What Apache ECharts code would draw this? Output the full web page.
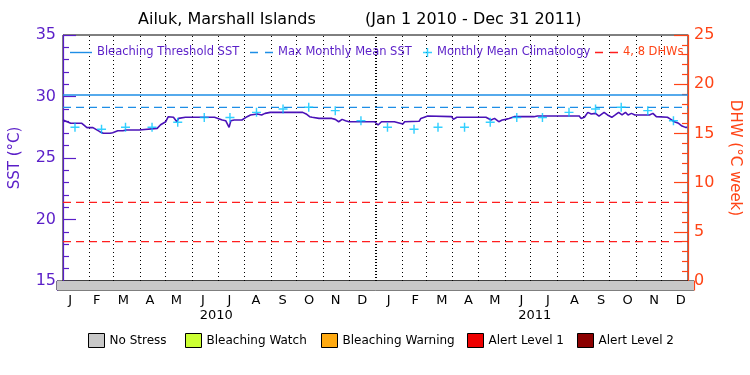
<!DOCTYPE html>
<html>
<head>
<meta charset="utf-8">
<title>Ailuk, Marshall Islands</title>
<script src="https://cdn.jsdelivr.net/npm/echarts@6/dist/echarts.min.js"></script>
<style>
html, body { margin: 0; padding: 0; background: #fff; }
#chart { width: 750px; height: 375px; }
</style>
</head>
<body>
<div id="chart"></div>
<script>
// SST trace (°C), a point wherever the trace changes
var sstDates = [
  "2010-01-01", "2010-01-03", "2010-01-10", "2010-01-23", "2010-01-25", "2010-01-29",
  "2010-02-05", "2010-02-07", "2010-02-13", "2010-02-17", "2010-02-25", "2010-02-28",
  "2010-03-06", "2010-03-08", "2010-03-12", "2010-03-16", "2010-03-31",
  "2010-04-02", "2010-04-21", "2010-04-25",
  "2010-05-01", "2010-05-04", "2010-05-10", "2010-05-14", "2010-05-16", "2010-05-24",
  "2010-06-27",
  "2010-07-01", "2010-07-06", "2010-07-10", "2010-07-14", "2010-07-16", "2010-07-20", "2010-07-29", "2010-07-31",
  "2010-08-04", "2010-08-08", "2010-08-16", "2010-08-21", "2010-08-25", "2010-08-31",
  "2010-10-08", "2010-10-12", "2010-10-16", "2010-10-19", "2010-10-27",
  "2010-11-11", "2010-11-15", "2010-11-19", "2010-11-23", "2010-11-27",
  "2010-12-01", "2010-12-31",
  "2011-01-04", "2011-01-08", "2011-01-23", "2011-01-25",
  "2011-02-02", "2011-02-04", "2011-02-06", "2011-02-21", "2011-02-23", "2011-02-25",
  "2011-03-03", "2011-03-31",
  "2011-04-02", "2011-04-06",
  "2011-05-10", "2011-05-12", "2011-05-16", "2011-05-20", "2011-05-25", "2011-05-29",
  "2011-06-02", "2011-06-06", "2011-06-12",
  "2011-07-05", "2011-07-09",
  "2011-08-27", "2011-08-29",
  "2011-09-02", "2011-09-06", "2011-09-10", "2011-09-15", "2011-09-19", "2011-09-25", "2011-09-29",
  "2011-10-04", "2011-10-08", "2011-10-12", "2011-10-16", "2011-10-20", "2011-10-23", "2011-10-27", "2011-10-31",
  "2011-11-17", "2011-11-21", "2011-11-25", "2011-11-27",
  "2011-12-08", "2011-12-12", "2011-12-16", "2011-12-21", "2011-12-25", "2011-12-29", "2011-12-31"
];
var sstValues = [
  28.09, 28.03, 27.82, 27.82, 27.68, 27.47,
  27.47, 27.36, 27.14, 27.01, 27.01, 27.06,
  27.22, 27.09, 27.22, 27.28, 27.28,
  27.41, 27.41, 27.70,
  27.95, 28.36, 28.31, 27.95, 28.22, 28.31,
  28.31,
  28.22, 28.09, 28.03, 27.49, 28.03, 28.09, 28.09, 28.22,
  28.36, 28.50, 28.58, 28.50, 28.63, 28.71,
  28.71, 28.58, 28.36, 28.31, 28.22,
  28.22, 28.14, 27.95, 28.14, 28.03,
  27.95, 27.95,
  27.68, 27.95, 27.95, 27.82,
  27.77, 27.95, 27.99, 27.99, 28.22, 28.36,
  28.41, 28.36,
  28.14, 28.31,
  28.31, 28.22, 28.09, 28.22, 27.95, 28.09,
  28.14, 28.22, 28.36,
  28.36, 28.41,
  28.41, 28.22,
  28.31, 28.71, 28.58, 28.63, 28.41, 28.71, 28.50,
  28.31, 28.50, 28.71, 28.50, 28.71, 28.50, 28.63, 28.50,
  28.50, 28.63, 28.36, 28.31,
  28.31, 28.14, 27.95, 27.82, 27.60, 27.49, 27.49
];
// monthly mean climatology, Jan..Dec
var climValues = [27.50, 27.33, 27.50, 27.50, 27.90, 28.30, 28.30, 28.71, 28.98, 29.12, 28.85, 28.03];
var mmmSst = 29.12;
var thresholdSst = 30.12;
var dhwLevels = [4, 8];
var years = ["2010", "2011"];
var monthLetters = ["J", "F", "M", "A", "M", "J", "J", "A", "S", "O", "N", "D"];
var stressNames = ["No Stress", "Bleaching Watch", "Bleaching Warning", "Alert Level 1", "Alert Level 2"];
// [start, end, stress level index]
var stressPeriods = [["2010-01-01", "2012-01-01", 0]];

var startDate = "2010-01-01";
var endDate = "2012-01-01";

var FONT = "DejaVu Sans";
var PURPLE = "#5a1ec8";
var ORANGE = "#ff4416";
var stressColors = ["#c8c8c8", "#ccff33", "#ffaa11", "#ee0000", "#8b0000"];
var stressLegendLeft = [88, 185, 321, 467, 577];
var crossIcon = "path://M4.2,0H5.8V4.2H10V5.8H5.8V10H4.2V5.8H0V4.2H4.2Z";
var solidIcon = "path://M0,0H22V1.4H0Z";
var dashIcon = "path://M0,0H8V1.4H0ZM15,0H23V1.4H15Z";

function pad(n) { return n < 10 ? "0" + n : "" + n; }

var monthLabels = [];
var monthLines = [];
var climData = [];
years.forEach(function (y) {
  monthLetters.forEach(function (m, i) {
    monthLabels.push(m);
    climData.push([y + "-" + pad(i + 1) + "-15", climValues[i]]);
    var d = y + "-" + pad(i + 1) + "-01";
    if (d === startDate) return;
    monthLines.push(d === "2011-01-01"
      ? { xAxis: d, lineStyle: { width: 2, type: [1, 2] } }
      : { xAxis: d });
  });
});

var sstData = sstDates.map(function (d, i) { return [d, sstValues[i]]; });

var series = [
  {
    name: "Bleaching Threshold SST",
    type: "line",
    xAxisIndex: 0, yAxisIndex: 0,
    data: [[startDate, thresholdSst], [endDate, thresholdSst]],
    symbol: "none",
    lineStyle: { color: "#1e8ee6", width: 1.3 },
    itemStyle: { color: "#1e8ee6" }
  },
  {
    name: "Max Monthly Mean SST",
    type: "line",
    xAxisIndex: 0, yAxisIndex: 0,
    data: [[startDate, mmmSst], [endDate, mmmSst]],
    symbol: "none",
    lineStyle: { color: "#1e8ee6", width: 1.3, type: [8, 5] },
    itemStyle: { color: "#1e8ee6" }
  }
];
dhwLevels.forEach(function (v) {
  series.push({
    name: "4, 8 DHWs",
    type: "line",
    xAxisIndex: 0, yAxisIndex: 1,
    data: [[startDate, v], [endDate, v]],
    symbol: "none",
    lineStyle: { color: "#ff1e1e", width: 1.3, type: [8, 5] },
    itemStyle: { color: "#ff1e1e" }
  });
});
series.push({
  name: "SST",
  type: "line",
  xAxisIndex: 0, yAxisIndex: 0,
  data: sstData,
  symbol: "none",
  lineStyle: { color: "#4a12b8", width: 1.6 },
  z: 4,
  markLine: {
    silent: true,
    symbol: ["none", "none"],
    label: { show: false },
    lineStyle: { color: "#000", width: 1, type: [1, 3] },
    data: monthLines,
    z: 1
  }
});
series.push({
  name: "Monthly Mean Climatology",
  type: "scatter",
  xAxisIndex: 0, yAxisIndex: 0,
  data: climData,
  symbol: crossIcon,
  symbolSize: 9,
  itemStyle: { color: "#00c4ff" },
  z: 5
});
stressNames.forEach(function (name, k) {
  series.push({
    name: name,
    type: "custom",
    xAxisIndex: 1, yAxisIndex: 2,
    dimensions: [{ name: "start", type: "time" }, { name: "end", type: "time" }, { name: "level" }],
    encode: { x: [0, 1] },
    itemStyle: { color: stressColors[k] },
    data: stressPeriods.filter(function (p) { return p[2] === k; }),
    renderItem: function (params, api) {
      var a = api.coord([api.value(0), 1]);
      var b = api.coord([api.value(1), 0]);
      return {
        type: "rect",
        shape: { x: a[0], y: a[1], width: b[0] - a[0], height: b[1] - a[1] },
        style: { fill: stressColors[k] }
      };
    }
  });
});

function topLegend(name, left, width, height, color, icon) {
  return {
    left: left, top: 46.5, padding: 0,
    itemWidth: width, itemHeight: height,
    selectedMode: false,
    data: [{ name: name, icon: icon }],
    textStyle: { color: color, fontFamily: FONT, fontSize: 11.5 }
  };
}

var legends = [
  topLegend("Bleaching Threshold SST", 70, 22, 1.4, PURPLE, solidIcon),
  topLegend("Max Monthly Mean SST", 250, 23, 1.4, PURPLE, dashIcon),
  topLegend("Monthly Mean Climatology", 423, 9, 9, PURPLE, crossIcon),
  topLegend("4, 8 DHWs", 595, 23, 1.4, ORANGE, dashIcon)
];
stressNames.forEach(function (name, k) {
  legends.push({
    left: stressLegendLeft[k], top: 333, padding: 0,
    itemWidth: 16, itemHeight: 14,
    selectedMode: false,
    data: [{ name: name, icon: "rect" }],
    itemStyle: { borderColor: "#000", borderWidth: 1 },
    textStyle: { color: "#000", fontFamily: FONT, fontSize: 12 }
  });
});

var option = {
  animation: false,
  backgroundColor: "#fff",
  title: [
    { text: "Ailuk, Marshall Islands", left: 138, top: 12, padding: 0,
      textStyle: { fontFamily: FONT, fontSize: 16, fontWeight: "normal", color: "#000" } },
    { text: "(Jan 1 2010 - Dec 31 2011)", left: 365, top: 12, padding: 0,
      textStyle: { fontFamily: FONT, fontSize: 16, fontWeight: "normal", color: "#000" } }
  ],
  legend: legends,
  grid: [
    { left: 57, right: 56, top: 35, bottom: 94, show: true, borderColor: "#000", borderWidth: 1 },
    { left: 57, right: 56, top: 281, bottom: 85, show: true, borderColor: "#000", borderWidth: 1 }
  ],
  xAxis: [
    { type: "time", gridIndex: 0, min: startDate, max: endDate, show: false },
    { type: "time", gridIndex: 1, min: startDate, max: endDate, show: false },
    {
      type: "category", gridIndex: 1, position: "bottom", data: monthLabels,
      axisLine: { show: false }, axisTick: { show: false },
      axisLabel: { interval: 0, margin: 4, color: "#000", fontFamily: FONT, fontSize: 13 }
    },
    {
      type: "category", gridIndex: 1, position: "bottom", data: years,
      axisLine: { show: false }, axisTick: { show: false },
      axisLabel: { interval: 0, margin: 19, color: "#000", fontFamily: FONT, fontSize: 13 }
    }
  ],
  yAxis: [
    {
      type: "value", gridIndex: 0, position: "left", min: 15, max: 35, interval: 5,
      name: "SST (°C)", nameLocation: "middle", nameGap: 40, nameRotate: 90,
      nameTextStyle: { color: PURPLE, fontFamily: FONT, fontSize: 15 },
      axisLine: { show: true, lineStyle: { color: PURPLE, width: 1.2 } },
      axisTick: { show: true, inside: true, length: 13, lineStyle: { color: PURPLE, width: 1.2 } },
      minorTick: { show: true, splitNumber: 5, length: 6, lineStyle: { color: PURPLE, width: 1.2 } },
      splitLine: { show: false },
      axisLabel: { color: PURPLE, fontFamily: FONT, fontSize: 16, margin: 7 }
    },
    {
      type: "value", gridIndex: 0, position: "right", min: 0, max: 25, interval: 5,
      name: "DHW (°C week)", nameLocation: "middle", nameGap: 39, nameRotate: -90,
      nameTextStyle: { color: ORANGE, fontFamily: FONT, fontSize: 15 },
      axisLine: { show: true, lineStyle: { color: ORANGE, width: 1.2 } },
      axisTick: { show: true, inside: true, length: 14, lineStyle: { color: ORANGE, width: 1.2 } },
      minorTick: { show: true, splitNumber: 5, length: 6, lineStyle: { color: ORANGE, width: 1.2 } },
      splitLine: { show: false },
      axisLabel: { color: ORANGE, fontFamily: FONT, fontSize: 16, margin: 6 }
    },
    {
      type: "value", gridIndex: 1, position: "left", min: 0, max: 1,
      axisLine: { show: true, lineStyle: { color: PURPLE, width: 1.2 } },
      axisTick: { show: false }, axisLabel: { show: false }, splitLine: { show: false }
    },
    {
      type: "value", gridIndex: 1, position: "right", min: 0, max: 1,
      axisLine: { show: true, lineStyle: { color: ORANGE, width: 1.2 } },
      axisTick: { show: false }, axisLabel: { show: false }, splitLine: { show: false }
    }
  ],
  series: series
};

var chart = echarts.init(document.getElementById("chart"));
chart.setOption(option);
</script>
</body>
</html>
